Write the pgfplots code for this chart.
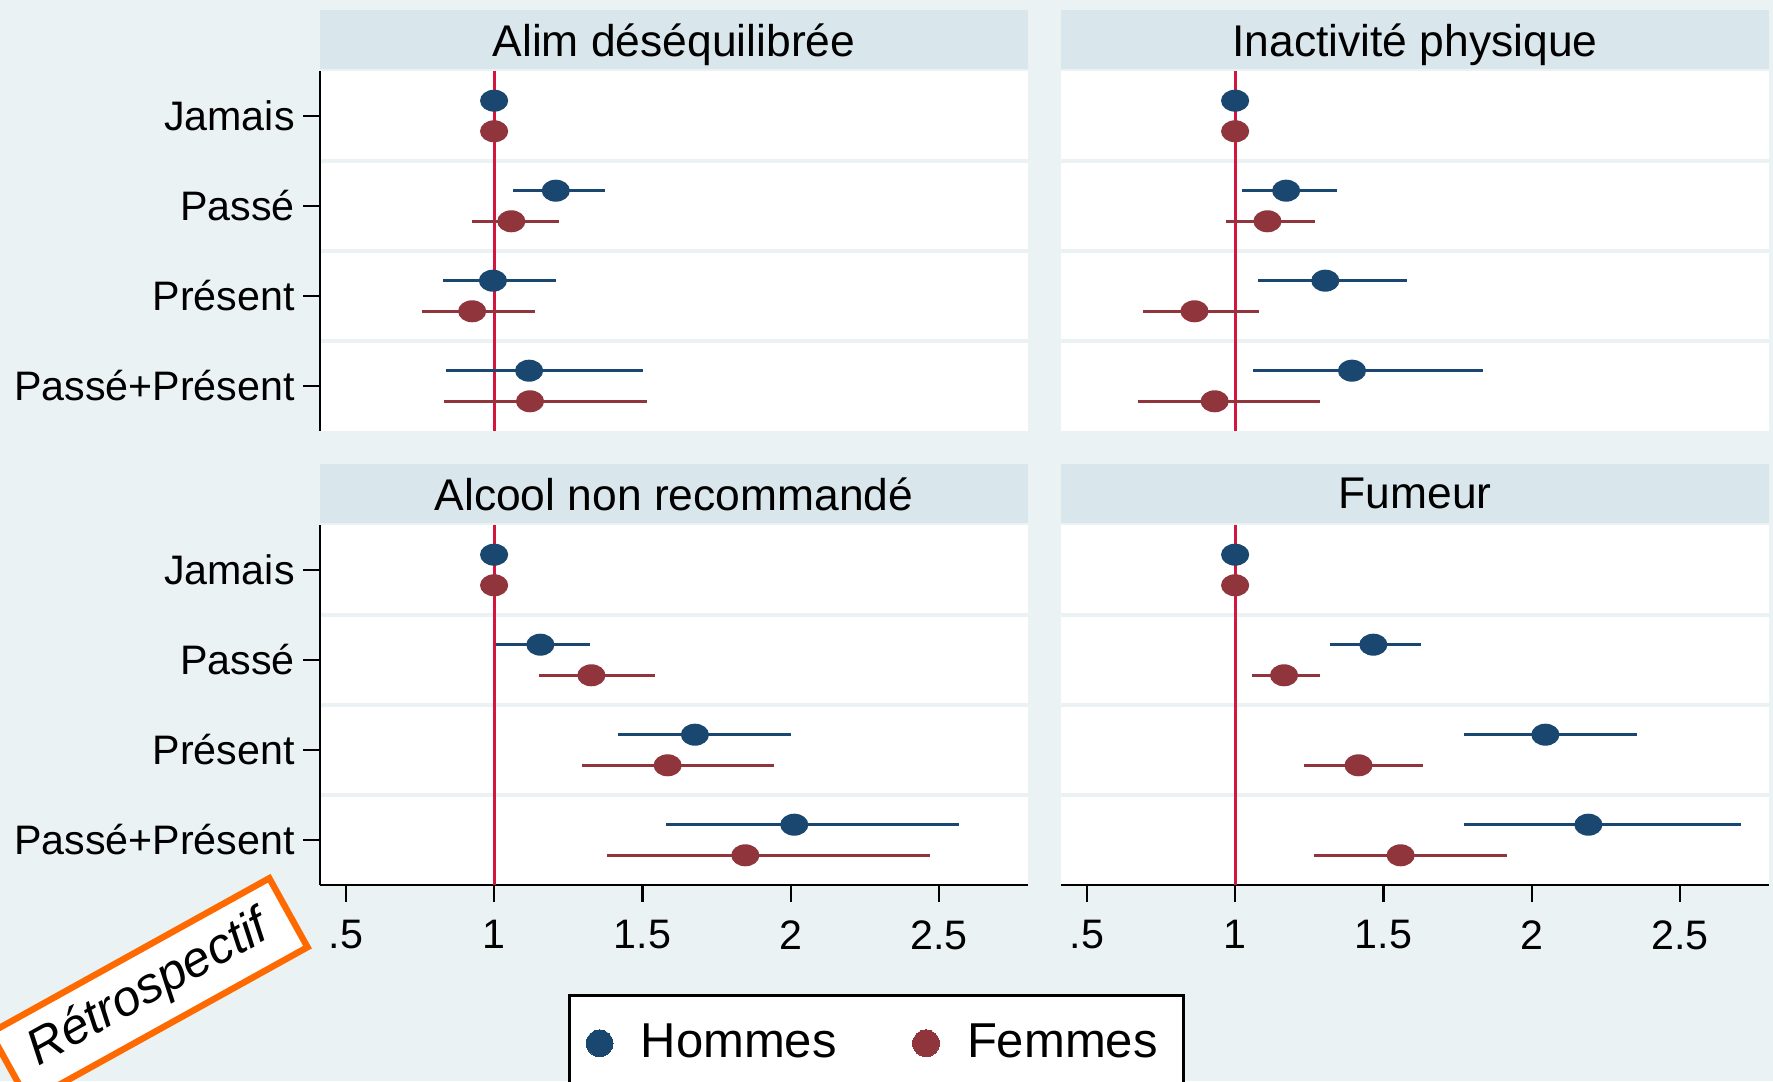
\documentclass[border=0pt]{standalone}
\usepackage{fontspec}
\setmainfont{Liberation Sans}
\usepackage{pgfplots}
\pgfplotsset{compat=1.18}
\usepackage{pgfplotstable}
\definecolor{bgc}{HTML}{EAF2F3}
\definecolor{hdr}{HTML}{D9E6EB}
\definecolor{navy}{HTML}{1A476F}
\definecolor{maroon}{HTML}{90353B}
\definecolor{refred}{HTML}{D2163D}
\definecolor{stampc}{HTML}{FF6A00}

% y: 4=Jamais, 3=Passé, 2=Présent, 1=Passé+Présent
% xh,lh,hh: Hommes estimate, lower, upper ; xf,lf,hf: Femmes
\pgfplotstableread{
y xh lh hh xf lf hf
4 1 1 1 1 1 1
3 1.208 1.063 1.375 1.058 0.924 1.219
2 0.996 0.826 1.208 0.926 0.756 1.139
1 1.118 0.837 1.503 1.121 0.832 1.516
}\tabAlim
\pgfplotstableread{
y xh lh hh xf lf hf
4 1 1 1 1 1 1
3 1.172 1.024 1.342 1.109 0.970 1.268
2 1.304 1.076 1.581 0.863 0.690 1.080
1 1.394 1.060 1.836 0.931 0.674 1.287
}\tabInact
\pgfplotstableread{
y xh lh hh xf lf hf
4 1 1 1 1 1 1
3 1.156 1.007 1.322 1.328 1.152 1.541
2 1.677 1.416 2.001 1.585 1.295 1.943
1 2.012 1.579 2.569 1.847 1.382 2.470
}\tabAlcool
\pgfplotstableread{
y xh lh hh xf lf hf
4 1 1 1 1 1 1
3 1.466 1.320 1.628 1.165 1.057 1.287
2 2.046 1.773 2.356 1.416 1.231 1.635
1 2.191 1.773 2.707 1.558 1.266 1.917
}\tabFumeur

\pgfplotsset{
  panel/.style={
    scale only axis, width=177pt, height=90pt,
    xmin=0.413, xmax=2.80, ymin=0.5, ymax=4.5,
    axis background/.style={fill=white},
    axis x line*=bottom, axis y line*=left,
    axis line style={-, line width=0.6pt, black},
    ytick={1,2,3,4}, yticklabels={Passé+Présent,Présent,Passé,Jamais},
    minor ytick={1.5,2.5,3.5}, yminorgrids=true,
    minor grid style={draw=bgc, line width=1pt}, minor tick length=0pt,
    xtick={0.5,1,1.5,2,2.5}, xticklabels={.5,1,1.5,2,2.5},
    tick align=outside, major tick length=4.2pt,
    major tick style={black, line width=0.6pt},
    tick label style={font=\fontsize{10.3}{12}\selectfont},
    xticklabel style={yshift=-1.1pt},
    yticklabel style={xshift=1.4pt},
    title style={at={(rel axis cs:0.5,1)}, anchor=south, fill=hdr,
      minimum width=177pt, minimum height=14.75pt, inner sep=0pt,
      text depth=0pt,
      yshift=-5.75pt, font=\fontsize{11.1}{13}\selectfont},
  }
}

\newcommand{\panelplots}[1]{%
  \addplot[refred, line width=0.8pt, forget plot] coordinates {(1,0.5) (1,4.5)};
  \addplot[only marks, mark=*, navy, mark size=2.55pt,
    mark options={xscale=1.3, fill=navy, draw=navy}, forget plot,
    error bars/.cd, x dir=both, x explicit, error mark=none,
    error bar style={line width=0.7pt, navy}]
    table[x=xh, y expr=\thisrow{y}+0.17,
      x error plus expr=\thisrow{hh}-\thisrow{xh},
      x error minus expr=\thisrow{xh}-\thisrow{lh}] {#1};
  \addplot[only marks, mark=*, maroon, mark size=2.55pt,
    mark options={xscale=1.3, fill=maroon, draw=maroon}, forget plot,
    error bars/.cd, x dir=both, x explicit, error mark=none,
    error bar style={line width=0.7pt, maroon}]
    table[x=xf, y expr=\thisrow{y}-0.17,
      x error plus expr=\thisrow{hf}-\thisrow{xf},
      x error minus expr=\thisrow{xf}-\thisrow{lf}] {#1};
}

\begin{document}
\begin{tikzpicture}
\path[use as bounding box] (0,0) rectangle (443.25pt,270.25pt);
\fill[bgc] (0,0) rectangle (443.25pt,270.25pt);
\clip (0,0) rectangle (443.25pt,270.25pt);

\begin{axis}[panel, at={(80pt,162.5pt)}, anchor=south west,
  title={Alim déséquilibrée},
  x axis line style={draw=none}, xmajorticks=false]
  \panelplots{\tabAlim}
\end{axis}

\begin{axis}[panel, at={(265.25pt,162.5pt)}, anchor=south west,
  title={Inactivité physique},
  x axis line style={draw=none}, xmajorticks=false,
  y axis line style={draw=none}, ymajorticks=false]
  \panelplots{\tabInact}
\end{axis}

\begin{axis}[panel, at={(80pt,49pt)}, anchor=south west,
  title={Alcool non recommandé},
  legend columns=2, legend cell align=left,
  legend image code/.code={\draw[#1] plot coordinates {(0pt,0pt)};},
  legend style={at={(rel axis cs:0.3503,-0.3028)}, anchor=north west,
    draw=black, line width=0.7pt, fill=white,
    font=\fontsize{12.25}{14}\selectfont, inner xsep=4.2pt, inner ysep=7pt,
    nodes={inner sep=0pt},
    /tikz/every odd column/.append style={column sep=6.9pt},
    /tikz/every even column/.append style={column sep=19pt}}]
  \panelplots{\tabAlcool}
  \addlegendimage{only marks, mark=*, mark size=3.35pt, navy, mark options={fill=navy, draw=navy, line width=0pt}}
  \addlegendentry{Hommes}
  \addlegendimage{only marks, mark=*, mark size=3.35pt, maroon, mark options={fill=maroon, draw=maroon, line width=0pt}}
  \addlegendentry{Femmes\hspace*{2.2pt}}
\end{axis}

\begin{axis}[panel, at={(265.25pt,49pt)}, anchor=south west,
  title={Fumeur},
  y axis line style={draw=none}, ymajorticks=false]
  \panelplots{\tabFumeur}
\end{axis}

\node[draw=stampc, line width=1.6pt, fill=white, rotate=29,
  minimum height=19.7pt, inner xsep=6.5pt, inner ysep=0pt,
  font=\fontsize{12.5}{14}\selectfont\itshape]
  at (37.25pt,22.75pt) {Rétrospectif};
\end{tikzpicture}
\end{document}
